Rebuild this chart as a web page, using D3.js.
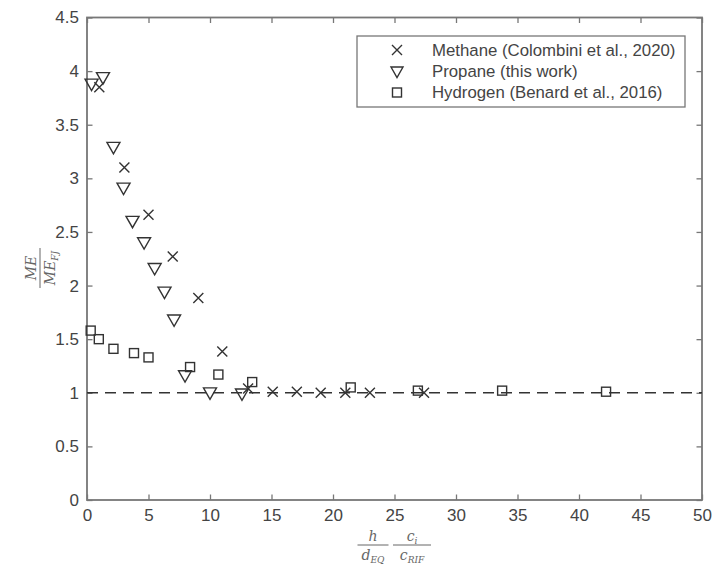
<!DOCTYPE html>
<html><head><meta charset="utf-8">
<script src="https://cdn.jsdelivr.net/npm/d3@7"></script>
<style>body{margin:0;background:#fff}svg{display:block}</style>
</head><body><div id="c"></div>
<script>
const methaneX = [1.0, 3.04, 5.0, 6.97, 9.05, 11.0, 13.1, 15.1, 17.06, 19.0, 21.0, 23.0, 27.4];
const methaneY = [3.85, 3.10, 2.66, 2.27, 1.885, 1.385, 1.04, 1.01, 1.01, 1.0, 1.0, 1.0, 1.0];
const propaneX = [0.37, 1.3, 2.15, 2.97, 3.7, 4.64, 5.5, 6.3, 7.08, 7.97, 10.0, 12.6];
const propaneY = [3.88, 3.94, 3.29, 2.91, 2.6, 2.4, 2.16, 1.94, 1.68, 1.16, 1.0, 0.99];
const hydrogenX = [0.3, 0.96, 2.15, 3.82, 5.0, 8.38, 10.68, 13.43, 21.44, 26.9, 33.75, 42.2];
const hydrogenY = [1.58, 1.5, 1.41, 1.37, 1.33, 1.24, 1.17, 1.10, 1.05, 1.02, 1.02, 1.01];
const xTicks = [0,5,10,15,20,25,30,35,40,45,50];
const yTicks = [0,0.5,1,1.5,2,2.5,3,3.5,4,4.5];
const legendLabels = ["Methane (Colombini et al., 2020)", "Propane (this work)", "Hydrogen (Benard et al., 2016)"];
const refLine = 1;

const W = 715, H = 569;
const L = 87, R = 702, T = 17.5, B = 500;
const svg = d3.select("#c").append("svg").attr("width", W).attr("height", H);
const x = d3.scaleLinear().domain([0, 50]).range([L, R]);
const y = d3.scaleLinear().domain([0, 4.5]).range([B, T]);
const axCol = "#777", txtCol = "#444", mk = "#333";
const font = "Liberation Sans, Arial, sans-serif";

const tl = 5.5;
const gB = svg.append("g").attr("transform", `translate(0,${B})`)
  .call(d3.axisBottom(x).tickValues(xTicks).tickSizeInner(-tl).tickSizeOuter(0).tickPadding(9).tickFormat(d3.format("d")));
const gT = svg.append("g").attr("transform", `translate(0,${T})`)
  .call(d3.axisTop(x).tickValues(xTicks).tickSizeInner(-tl).tickSizeOuter(0).tickFormat(""));
const gL = svg.append("g").attr("transform", `translate(${L},0)`)
  .call(d3.axisLeft(y).tickValues(yTicks).tickSizeInner(-tl).tickSizeOuter(0).tickPadding(8).tickFormat(d => String(d)));
const gR = svg.append("g").attr("transform", `translate(${R},0)`)
  .call(d3.axisRight(y).tickValues(yTicks).tickSizeInner(-tl).tickSizeOuter(0).tickFormat(""));
[gB,gT,gL,gR].forEach(g => {
  g.select(".domain").remove();
  g.selectAll(".tick line").attr("stroke", axCol).attr("stroke-width", 1.3);
  g.selectAll(".tick text").attr("fill", txtCol).attr("font-family", font).attr("font-size", 17);
});
svg.append("rect").attr("x", L).attr("y", T).attr("width", R-L).attr("height", B-T)
  .attr("fill", "none").attr("stroke", axCol).attr("stroke-width", 1.8);

svg.append("line").attr("x1", x(0)).attr("x2", x(50)).attr("y1", y(refLine)).attr("y2", y(refLine))
  .attr("stroke", "#333").attr("stroke-width", 1.5).attr("stroke-dasharray", "11,7");

function cross(g, cx, cy, s) {
  g.append("path").attr("d", `M${cx-s},${cy-s}L${cx+s},${cy+s}M${cx-s},${cy+s}L${cx+s},${cy-s}`)
    .attr("stroke", mk).attr("stroke-width", 1.4).attr("fill", "none");
}
function tri(g, cx, cy, s) {
  g.append("path").attr("d", `M${cx-s},${cy-s*0.75}L${cx+s},${cy-s*0.75}L${cx},${cy+s*1.0}Z`)
    .attr("stroke", mk).attr("stroke-width", 1.4).attr("fill", "none");
}
function sq(g, cx, cy, s) {
  g.append("rect").attr("x", cx-s).attr("y", cy-s).attr("width", 2*s).attr("height", 2*s)
    .attr("stroke", mk).attr("stroke-width", 1.4).attr("fill", "none");
}
const gm = svg.append("g");
methaneX.forEach((v,i) => cross(gm, x(v), y(methaneY[i]), 5));
propaneX.forEach((v,i) => tri(gm, x(v), y(propaneY[i]), 6.5));
hydrogenX.forEach((v,i) => sq(gm, x(v), y(hydrogenY[i]), 4.5));

const lg = svg.append("g");
lg.append("rect").attr("x", 357).attr("y", 36).attr("width", 328).attr("height", 71)
  .attr("fill", "#fff").attr("stroke", axCol).attr("stroke-width", 1.3);
const rows = [50, 71.5, 92.5];
cross(lg, 397, rows[0], 5);
tri(lg, 397, rows[1], 6);
sq(lg, 397, rows[2], 4.5);
legendLabels.forEach((t,i) => lg.append("text").attr("x", 432).attr("y", rows[i]).attr("dy", "0.35em")
  .attr("font-family", font).attr("font-size", 16.8).attr("fill", txtCol).text(t));

const mf = "DejaVu Serif, serif", mc = "#666";
function frac(g, cx, cy, num, den, w) {
  const n = g.append("text").attr("x", cx).attr("y", cy - 4).attr("text-anchor", "middle")
    .attr("font-family", mf).attr("font-style", "italic").attr("font-size", 14).attr("fill", mc);
  num.forEach(p => n.append("tspan").attr("font-size", p[1] ? 9 : 14).attr("dy", p[1] ? 3 : 0).text(p[0]));
  g.append("line").attr("x1", cx - w/2).attr("x2", cx + w/2).attr("y1", cy).attr("y2", cy)
    .attr("stroke", mc).attr("stroke-width", 1);
  const d = g.append("text").attr("x", cx).attr("y", cy + 15).attr("text-anchor", "middle")
    .attr("font-family", mf).attr("font-style", "italic").attr("font-size", 14).attr("fill", mc);
  den.forEach(p => d.append("tspan").attr("font-size", p[1] ? 9 : 14).attr("dy", p[1] ? 3 : 0).text(p[0]));
}
const xl = svg.append("g");
frac(xl, 373, 545, [["h",0]], [["d",0],["EQ",1]], 31);
frac(xl, 412, 545, [["c",0],["i",1]], [["c",0],["RIF",1]], 38);
const yl = svg.append("g").attr("transform", "translate(40,268) rotate(-90)");
frac(yl, 0, 0, [["ME",0]], [["ME",0],["FJ",1]], 40);
</script></body></html>
